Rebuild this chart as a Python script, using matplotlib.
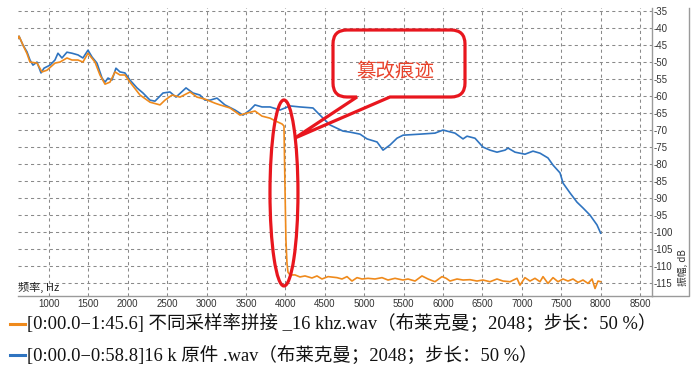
import matplotlib
matplotlib.use("Agg")
import matplotlib.pyplot as plt
from matplotlib.patches import Ellipse, PathPatch
from matplotlib.path import Path
from matplotlib.lines import Line2D
from matplotlib.transforms import Affine2D

plt.rcParams['axes.unicode_minus'] = False

# ---------------- data ----------------
blue_freq = [607, 620, 670, 721, 759, 797, 848, 899, 937, 1013, 1076, 1114, 1165, 1228,
             1292, 1368, 1431, 1495, 1546, 1609, 1673, 1711, 1749, 1799, 1850, 1901, 1964,
             2028, 2117, 2193, 2282, 2345, 2447, 2535, 2612, 2739, 2827, 2916, 2980, 3043,
             3132, 3233, 3360, 3462, 3551, 3614, 3703, 3805, 3932, 4058, 4185, 4350, 4439,
             4566, 4731, 4820, 4947, 5036, 5163, 5239, 5327, 5416, 5493, 5708, 5898, 6000,
             6152, 6254, 6305, 6406, 6507, 6596, 6685, 6787, 6825, 6914, 7040, 7142, 7231,
             7332, 7396, 7485, 7523, 7612, 7700, 7776, 7865, 7954, 8000]
blue_db = [-43.0, -42.4, -45.0, -47.0, -49.4, -50.9, -50.0, -53.2, -51.8, -50.9, -49.4, -47.4,
           -48.8, -47.1, -47.4, -47.9, -48.8, -46.5, -48.5, -50.3, -54.7, -55.9, -54.7, -55.3,
           -51.8, -52.9, -53.2, -55.3, -57.6, -59.1, -61.2, -61.5, -59.1, -58.8, -60.3, -57.6,
           -59.1, -59.7, -61.2, -61.2, -60.6, -62.6, -64.1, -65.6, -64.1, -62.6, -63.2, -63.2,
           -64.1, -62.9, -63.2, -63.5, -65.6, -68.5, -70.3, -70.6, -71.2, -72.6, -73.5, -75.9,
           -74.4, -72.4, -71.5, -71.2, -70.9, -70.0, -70.9, -72.6, -71.8, -72.4, -75.0, -75.9,
           -76.5, -75.9, -75.3, -76.5, -77.1, -76.2, -76.8, -78.2, -80.3, -82.6, -85.6, -88.5,
           -91.2, -92.9, -95.0, -97.9, -100.3]

orange_freq = [607, 620, 670, 721, 759, 848, 911, 975, 1076, 1140, 1228, 1292, 1368, 1431,
               1495, 1584, 1647, 1711, 1774, 1838, 1901, 1964, 2028, 2155, 2282, 2409, 2472,
               2561, 2663, 2790, 2878, 2980, 3107, 3170, 3297, 3424, 3513, 3614, 3703, 3805,
               3881, 3957, 3982, 3995, 4007, 4020, 4033, 4058, 4122, 4185, 4249, 4337, 4401,
               4464, 4541, 4655, 4718, 4782, 4845, 4909, 4972, 5048, 5137, 5226, 5302, 5391,
               5492, 5556, 5645, 5733, 5810, 5898, 5987, 6040, 6089, 6178, 6254, 6343, 6431,
               6507, 6596, 6685, 6761, 6850, 6939, 6977, 7040, 7104, 7167, 7231, 7269, 7332,
               7396, 7459, 7523, 7586, 7650, 7713, 7776, 7840, 7891, 7929, 7967, 8000]
orange_db = [-43.0, -42.4, -45.0, -47.5, -50.0, -50.3, -52.9, -52.4, -50.3, -50.0, -48.8,
             -49.4, -49.4, -50.0, -47.4, -50.0, -53.8, -56.5, -55.9, -52.9, -53.8, -53.8,
             -55.9, -59.7, -61.8, -62.6, -61.2, -59.7, -60.3, -58.8, -60.3, -60.9, -62.1,
             -62.6, -63.5, -65.6, -65.0, -64.4, -65.9, -66.5, -67.4, -68.2, -68.8, -87.1,
             -102.4, -109.1, -111.8, -112.6, -112.6, -113.2, -112.9, -113.5, -112.9, -113.8,
             -113.1, -113.4, -113.8, -113.1, -114.4, -113.4, -113.8, -113.6, -113.8, -113.4,
             -114.1, -113.6, -114.1, -113.8, -114.4, -112.9, -113.8, -114.6, -113.1, -113.6,
             -114.4, -113.8, -114.1, -114.0, -114.4, -114.1, -114.6, -113.8, -114.4, -114.6,
             -113.6, -115.6, -113.4, -114.4, -113.6, -114.6, -113.1, -115.1, -113.4, -114.6,
             -113.8, -114.4, -113.8, -114.8, -114.1, -115.1, -113.8, -116.6, -114.4, -114.6]

series_labels = ["[0:00.0\u22121:45.6] 不同采样率拼接 _16 khz.wav（布莱克曼；2048；步长：50 %）",
                 "[0:00.0\u22120:58.8]16 k 原件 .wav（布莱克曼；2048；步长：50 %）"]
x_ticks = list(range(1000, 9000, 500))
y_ticks = list(range(-35, -120, -5))
x_label = "频率, Hz"
y_label = "振幅, dB"
callout_text = "篡改痕迹"

# ---------------- layout ----------------
W, H = 696, 369
fig = plt.figure(figsize=(W / 100, H / 100), dpi=100)
ax = fig.add_axes([18 / W, 1 - 296 / H, (652 - 18) / W, (296 - 8) / H])
ax.set_xlim(607, 8652)
ax.set_ylim(-118.8, -34.1)

orange_c = "#ef8a1c"
blue_c = "#2f74c0"
ax.plot(blue_freq, blue_db, color=blue_c, lw=1.2, zorder=3)
ax.plot(orange_freq, orange_db, color=orange_c, lw=1.2, zorder=4)

ax.set_xticks(x_ticks)
ax.set_yticks(y_ticks)
ax.yaxis.tick_right()
ax.tick_params(axis='both', length=0, labelsize=7, labelcolor="#333333")
ax.tick_params(axis='x', pad=2)
ax.tick_params(axis='y', pad=1)
for lab in ax.get_xticklabels() + ax.get_yticklabels():
    lab.set_fontfamily("Liberation Sans")
ax.grid(True, color="#8a8a8a", lw=0.75, linestyle=(0, (3, 3)))
for s in ["left", "top"]:
    ax.spines[s].set_visible(False)
for s in ["right", "bottom"]:
    ax.spines[s].set_color("#9a9a9a")
    ax.spines[s].set_linewidth(1.0)

ax.text(0.0, 0.012, x_label, transform=ax.transAxes, fontsize=8,
        family=["Noto Sans CJK SC", "DejaVu Sans"], ha="left", va="bottom", color="#222222")

# right-hand label panel
px = Affine2D().scale(1 / W, -1 / H).translate(0, 1) + fig.transFigure
fig.add_artist(Line2D([689, 689, 652], [8, 296, 296], transform=px, color="#9a9a9a", lw=1.0))
fig.text(683 / W, 1 - 268 / H, y_label, rotation=90, fontsize=7,
         family=["Noto Sans CJK SC", "DejaVu Sans"], ha="center", va="center", color="#333333")

# ---------------- red callout ----------------
red = "#e8161e"
ax.add_patch(Ellipse((3982, -88.5), 355, 54.7, fill=False, edgecolor=red, lw=2.3, zorder=6))

r = 14
x0, x1, y0, y1 = 333, 465, 30, 97
verts = [(357, y1), (295, 138), (390, y1),
         (x1 - r, y1), (x1, y1), (x1, y1 - r),
         (x1, y0 + r), (x1, y0), (x1 - r, y0),
         (x0 + r, y0), (x0, y0), (x0, y0 + r),
         (x0, y1 - r), (x0, y1), (x0 + r, y1),
         (357, y1)]
codes = [Path.MOVETO, Path.LINETO, Path.LINETO,
         Path.LINETO, Path.CURVE3, Path.CURVE3,
         Path.LINETO, Path.CURVE3, Path.CURVE3,
         Path.LINETO, Path.CURVE3, Path.CURVE3,
         Path.LINETO, Path.CURVE3, Path.CURVE3,
         Path.CLOSEPOLY]
fig.add_artist(PathPatch(Path(verts, codes), transform=px, fill=False,
                         edgecolor=red, lw=2.3, joinstyle="miter", zorder=7))
fig.text(395 / W, 1 - 72 / H, callout_text, fontsize=14, color="#e8432c",
         family=["Noto Sans CJK SC"], ha="center", va="center")

# ---------------- legend ----------------
legend_colors = [orange_c, blue_c]
legend_y = [324, 355]
for lab, c, yy in zip(series_labels, legend_colors, legend_y):
    fig.add_artist(Line2D([10, 25], [yy, yy], transform=px, color=c, lw=2.2))
    fig.text(27 / W, 1 - yy / H, lab, fontsize=13.3, color="#111111",
             family=["Liberation Serif", "Noto Sans CJK SC"], ha="left", va="center")

fig.savefig("out.png", dpi=100)
